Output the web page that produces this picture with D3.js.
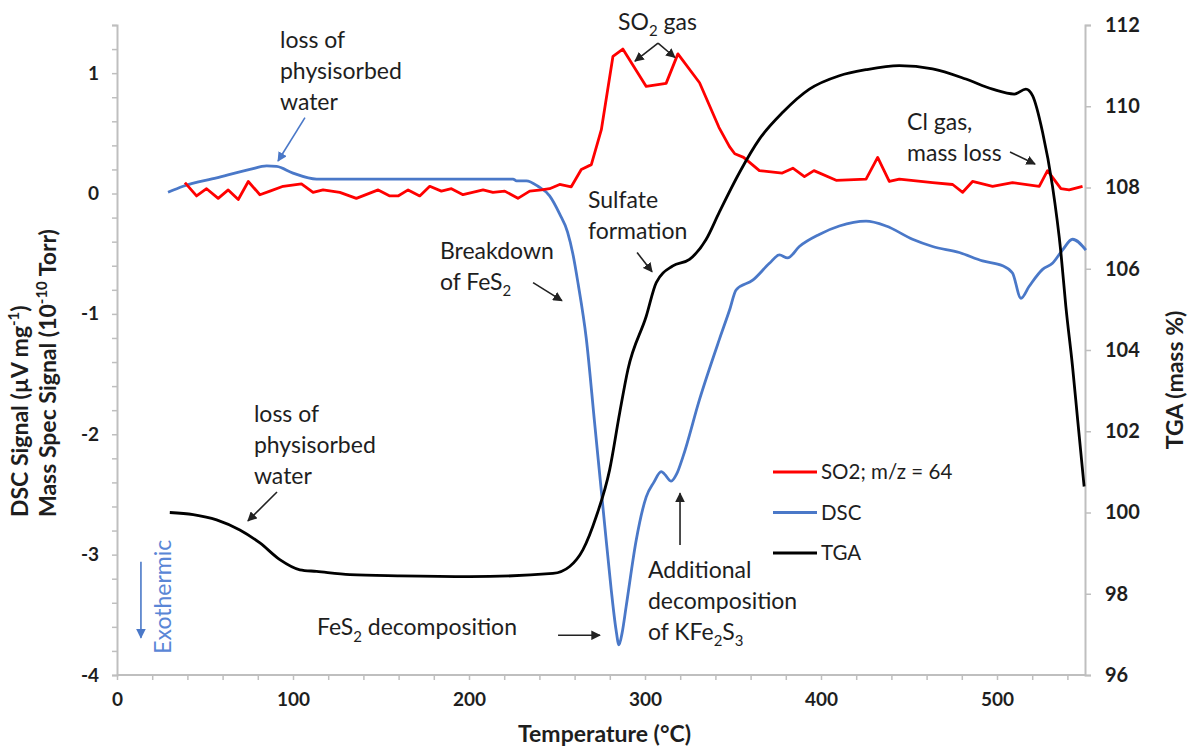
<!DOCTYPE html>
<html>
<head>
<meta charset="utf-8">
<script src="https://cdn.jsdelivr.net/npm/d3@7"></script>
<style>
body { margin: 0; background: #fff; }
svg text { font-family: Lato, "Open Sans", sans-serif; }
</style>
</head>
<body>
<div id="chart"></div>
<script>
// values: temperature in °C
var so2Temp = [38.6,45.2,50.9,57.5,63.2,68.9,74.6,81.2,86.9,94.4,104.8,111.4,117.1,126.6,136,148.4,155,159.7,165.4,172,177.7,184.3,190,196.6,208,213.6,220.3,227.8,234.5,241.1,245.8,251.5,258.1,263.8,269.5,275.2,281.8,287.4,300.7,312,318.7,331,342,348,351,356,365,378,384,390.6,396,408.6,425.6,432.2,438.8,444.5,463.4,474.8,480.5,486.1,497.5,508.8,524,528.7,536.3,541,548.6]
var so2Signal = [0.09,-0.02,0.04,-0.04,0.03,-0.05,0.10,-0.01,0.02,0.06,0.08,0.01,0.03,0.01,-0.04,0.03,-0.02,-0.02,0.03,-0.02,0.06,0.02,0.04,-0.01,0.03,0.01,0.02,-0.04,0.02,0.03,0.04,0.075,0.056,0.2,0.24,0.53,1.14,1.2,0.89,0.915,1.16,0.92,0.55,0.39,0.33,0.30,0.19,0.17,0.21,0.14,0.19,0.11,0.12,0.30,0.10,0.12,0.09,0.075,0.01,0.10,0.06,0.09,0.06,0.19,0.04,0.03,0.06]

var dscTemp = [29,37.6,56.6,75.5,85,90.7,100,113.4,225,227,232.6,239.2,245.8,251.5,256,259,262,266.6,271.4,277,280.8,283.5,285.2,287,289.3,295,300.7,305,309.2,311,314.9,318,321.5,331,342.3,348,351.8,361.2,370.7,376.4,381,387.7,399,410.4,425.6,437,452,463.4,478.6,491.8,503.2,508.8,513.6,518.3,525.9,531.5,537.2,542.9,550.5]
var dscSignal = [0.01,0.06,0.13,0.2,0.23,0.225,0.17,0.12,0.12,0.105,0.105,0.06,-0.02,-0.17,-0.32,-0.5,-0.75,-1.2,-1.91,-2.74,-3.29,-3.62,-3.75,-3.65,-3.43,-2.88,-2.52,-2.4,-2.31,-2.33,-2.39,-2.33,-2.19,-1.71,-1.21,-0.97,-0.80,-0.72,-0.58,-0.51,-0.535,-0.44,-0.34,-0.27,-0.23,-0.27,-0.38,-0.44,-0.49,-0.56,-0.6,-0.66,-0.87,-0.77,-0.63,-0.58,-0.47,-0.38,-0.47]

var tgaTemp = [30,43.3,56.6,69.8,81.2,92.5,103.9,113.4,132.3,160.7,200.4,247.7,257.2,264.7,272.3,279.9,285.6,290.3,300.7,306.4,315.8,325.3,334.7,342.3,353.7,365,378.3,393.4,410.4,425.6,444.5,463.4,482.3,497.5,509.8,516.4,520.2,525.9,531.5,536.3,539.1,542.9,545.8,549.5]
var tgaMass = [100.0,99.95,99.82,99.57,99.25,98.84,98.59,98.55,98.47,98.44,98.42,98.5,98.67,99.08,99.9,101.05,102.45,103.52,104.83,105.66,106.07,106.23,106.72,107.4,108.37,109.19,109.85,110.42,110.75,110.9,111.0,110.92,110.67,110.42,110.3,110.42,110.26,109.36,108.04,106.4,105.08,103.6,102.29,100.64]

var seriesNames = ["SO2; m/z = 64", "DSC", "TGA"]
var seriesColors = ["#ff0000", "#4a78c8", "#000000"]

var xLabels = [0, 100, 200, 300, 400, 500]
var leftLabels = [-4, -3, -2, -1, 0, 1]
var rightLabels = [96, 98, 100, 102, 104, 106, 108, 110, 112]

function drawChart() {
    d3.select('svg').remove()

    const width = 1188
    const height = 747
    const plot = {left: 117, right: 1085, top: 25, bottom: 675}
    const axisGray = "#bfbfbf"
    const textColor = "#1e1e1e"
    const noteSize = 23

    var x = d3.scaleLinear().domain([0, 550]).range([plot.left, plot.right])
    var yL = d3.scaleLinear().domain([-4, 1.4]).range([plot.bottom, plot.top])
    var yR = d3.scaleLinear().domain([96, 112]).range([plot.bottom, plot.top])

    const svg = d3.select('#chart')
      .append("svg")
      .attr("width", width)
      .attr("height", height)

    var defs = svg.append("defs")
    function marker(id, color) {
        defs.append("marker")
          .attr("id", id)
          .attr("viewBox", "0 0 10 10")
          .attr("refX", 9).attr("refY", 5)
          .attr("markerWidth", 6).attr("markerHeight", 6)
          .attr("orient", "auto")
          .append("path")
          .attr("d", "M0,0 L10,5 L0,10 z")
          .attr("fill", color)
    }
    marker("headBlack", "#222")
    marker("headBlue", seriesColors[1])

    // axes
    var leftAxis = d3.axisLeft(yL)
      .tickValues(d3.range(0, 28).map(function(i) { return -4 + i * 0.2 }))
      .tickSize(5).tickPadding(13)
      .tickFormat(function(d) {
          var r = Math.round(d)
          return (Math.abs(d - r) < 1e-6 && leftLabels.indexOf(r) >= 0) ? String(r) : ""
      })
    var bottomAxis = d3.axisBottom(x)
      .tickValues(d3.range(0, 541, 20))
      .tickSize(5).tickPadding(13)
      .tickFormat(function(d) { return xLabels.indexOf(d) >= 0 ? String(d) : "" })
    var rightAxis = d3.axisRight(yR)
      .tickValues(rightLabels)
      .tickSize(6).tickPadding(14)
      .tickFormat(function(d) { return String(d) })

    var gl = svg.append("g").attr("transform", "translate(" + plot.left + ",0)").call(leftAxis)
    var gb = svg.append("g").attr("transform", "translate(0," + plot.bottom + ")").call(bottomAxis)
    var gr = svg.append("g").attr("transform", "translate(" + plot.right + ",0)").call(rightAxis)

    gb.select(".domain").attr("d", "M" + plot.left + ",0H" + plot.right)

    ;[gl, gb, gr].forEach(function(g) {
        g.select(".domain").attr("stroke", axisGray).attr("stroke-width", 2)
        g.selectAll(".tick line").attr("stroke", axisGray).attr("stroke-width", 1.5)
        g.selectAll(".tick text")
          .attr("fill", textColor)
          .style("font-weight", "bold")
          .style("font-size", "19px")
    })
    gr.selectAll(".tick text").style("font-size", "20px")

    // axis titles
    svg.append("text")
      .attr("x", x(277)).attr("y", 742)
      .attr("text-anchor", "middle")
      .style("font-size", "23px").style("font-weight", "bold")
      .attr("fill", textColor)
      .text("Temperature (°C)")

    function rich(sel, str, size) {
        // _{..} subscript, ^{..} superscript
        var parts = str.split(/(_\{[^}]*\}|\^\{[^}]*\})/)
        var shift = 0
        parts.forEach(function(p) {
            if (!p) return
            var t = sel.append("tspan")
            var target = 0
            if (p[0] === "_") { target = size * 0.28; p = p.slice(2, -1); t.style("font-size", (size * 0.65) + "px") }
            else if (p[0] === "^") { target = -size * 0.38; p = p.slice(2, -1); t.style("font-size", (size * 0.65) + "px") }
            t.attr("dy", target - shift).text(p)
            shift = target
        })
    }

    var yt = svg.append("text")
      .attr("transform", "translate(28,517) rotate(-90)")
      .style("font-size", "23px").style("font-weight", "bold")
      .attr("fill", textColor)
    rich(yt, "DSC Signal (µV mg^{-1})", 23)
    var yt2 = svg.append("text")
      .attr("transform", "translate(56,517) rotate(-90)")
      .style("font-size", "23px").style("font-weight", "bold")
      .attr("fill", textColor)
    rich(yt2, "Mass Spec Signal (10^{-10} Torr)", 23)

    svg.append("text")
      .attr("transform", "translate(1183,380) rotate(-90)")
      .attr("text-anchor", "middle")
      .style("font-size", "23px").style("font-weight", "bold")
      .attr("fill", textColor)
      .text("TGA (mass %)")

    // series
    var so2Line = d3.line()
      .x(function(d, i) { return x(so2Temp[i]) })
      .y(function(d) { return yL(d) })
    var dscLine = d3.line()
      .x(function(d, i) { return x(dscTemp[i]) })
      .y(function(d) { return yL(d) })
      .curve(d3.curveMonotoneX)
    var tgaLine = d3.line()
      .x(function(d, i) { return x(tgaTemp[i]) })
      .y(function(d) { return yR(d) })
      .curve(d3.curveMonotoneX)

    svg.append("path").datum(dscSignal).attr("d", dscLine)
      .attr("fill", "none").attr("stroke", seriesColors[1]).attr("stroke-width", 2.8)
    svg.append("path").datum(so2Signal).attr("d", so2Line)
      .attr("fill", "none").attr("stroke", seriesColors[0]).attr("stroke-width", 2.8)
      .attr("stroke-linejoin", "round")
    svg.append("path").datum(tgaMass).attr("d", tgaLine)
      .attr("fill", "none").attr("stroke", seriesColors[2]).attr("stroke-width", 2.8)

    // legend
    var legend = svg.selectAll(".legend")
      .data(seriesNames)
      .enter().append("g")
      .attr("transform", function(d, i) { return "translate(773," + (472 + i * 40.5) + ")" })
    legend.append("line")
      .attr("x1", 0).attr("x2", 44)
      .attr("stroke", function(d, i) { return seriesColors[i] })
      .attr("stroke-width", 2.8)
    legend.append("text")
      .attr("x", 48).attr("dy", "0.36em")
      .style("font-size", "20.5px")
      .attr("fill", textColor)
      .text(function(d) { return d })

    // annotations (data coords: temperature, left axis value)
    var notes = [
        {t: 92.6, v: 1.21, lines: ["loss of", "physisorbed", "water"]},
        {t: 284.7, v: 1.36, lines: ["SO_{2} gas"]},
        {t: 267.6, v: -0.12, lines: ["Sulfate", "formation"]},
        {t: 183.5, v: -0.54, lines: ["Breakdown", "of FeS_{2}"]},
        {t: 77.8, v: -1.9, lines: ["loss of", "physisorbed", "water"]},
        {t: 113.6, v: -3.67, lines: ["FeS_{2} decomposition"]},
        {t: 301.7, v: -3.19, lines: ["Additional", "decomposition", "of KFe_{2}S_{3}"]},
        {t: 448.9, v: 0.53, lines: ["Cl gas,", "mass loss"]}
    ]
    notes.forEach(function(n) {
        n.lines.forEach(function(l, i) {
            var t = svg.append("text")
              .attr("x", x(n.t)).attr("y", yL(n.v) + i * 31)
              .style("font-size", noteSize + "px")
              .attr("fill", textColor)
            rich(t, l, noteSize)
        })
    })

    var arrows = [
        {t1: 307.4, v1: 1.25, t2: 294.3, v2: 1.10, c: "headBlack"},
        {t1: 307.4, v1: 1.25, t2: 317, v2: 1.13, c: "headBlack"},
        {t1: 295.5, v1: -0.49, t2: 304, v2: -0.65, c: "headBlack"},
        {t1: 236.4, v1: -0.74, t2: 252.8, v2: -0.89, c: "headBlack"},
        {t1: 90.9, v1: -2.48, t2: 74.4, v2: -2.72, c: "headBlack"},
        {t1: 106.8, v1: 0.63, t2: 91.5, v2: 0.27, c: "headBlue"},
        {t1: 250.6, v1: -3.67, t2: 274.4, v2: -3.67, c: "headBlack"},
        {t1: 319.9, v1: -2.92, t2: 319.9, v2: -2.49, c: "headBlack"},
        {t1: 507.4, v1: 0.345, t2: 521.6, v2: 0.245, c: "headBlack"},
        {t1: 13.6, v1: -3.06, t2: 13.6, v2: -3.69, c: "headBlue"}
    ]
    svg.selectAll(".arrow")
      .data(arrows)
      .enter().append("line")
      .attr("x1", function(d) { return x(d.t1) })
      .attr("y1", function(d) { return yL(d.v1) })
      .attr("x2", function(d) { return x(d.t2) })
      .attr("y2", function(d) { return yL(d.v2) })
      .attr("stroke", function(d) { return d.c === "headBlue" ? seriesColors[1] : "#222" })
      .attr("stroke-width", 1.6)
      .attr("marker-end", function(d) { return "url(#" + d.c + ")" })

    svg.append("text")
      .attr("transform", "translate(" + (x(26.1) + 8) + "," + yL(-3.35) + ") rotate(-90)")
      .attr("text-anchor", "middle")
      .style("font-size", "23px")
      .attr("fill", "#5a86d6")
      .text("Exothermic")
}

drawChart()
</script>
</body>
</html>
